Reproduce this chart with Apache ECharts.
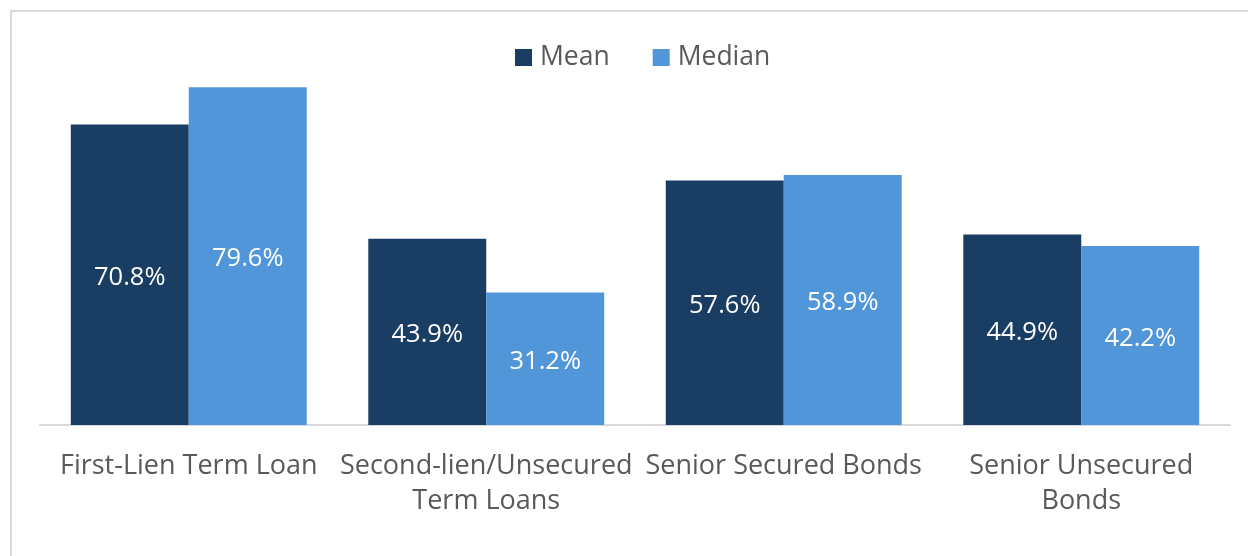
<!DOCTYPE html>
<html>
<head>
<meta charset="utf-8">
<script src="https://cdn.jsdelivr.net/npm/echarts@6/dist/echarts.min.js"></script>
<style>
html,body{margin:0;padding:0;background:#fff;}
#frame{position:absolute;left:10px;top:10px;width:1300px;height:700px;border:2px solid #d9d9d9;box-sizing:border-box;}
#chart{position:absolute;left:0;top:0;width:1248px;height:556px;}
body{width:1248px;height:556px;overflow:hidden;position:relative;}
</style>
</head>
<body>
<div id="frame"></div>
<div id="chart"></div>
<script>
const categories = ["First-Lien Term Loan", "Second-lien/Unsecured\nTerm Loans", "Senior Secured Bonds", "Senior Unsecured\nBonds"];
const meanValues = [70.8, 43.9, 57.6, 44.9];
const medianValues = [79.6, 31.2, 58.9, 42.2];
const seriesNames = ["Mean", "Median"];

const chart = echarts.init(document.getElementById('chart'), null, {renderer: 'canvas'});
const font = "'Open Sans', 'Noto Sans', sans-serif";
const labelCfg = {
  show: true, position: 'inside', offset: [0, 3], color: '#ffffff', fontSize: 25.5, fontFamily: font,
  formatter: p => p.value.toFixed(1) + '%'
};
chart.setOption({
  animation: false,
  backgroundColor: 'transparent',
  legend: {
    data: seriesNames, top: 39, left: 510, itemWidth: 17, itemHeight: 17, itemGap: 43,
    icon: 'rect',
    textStyle: {color: '#595959', fontSize: 26.5, fontFamily: font, padding: [0, 0, 0, 3]}
  },
  grid: {left: 40, right: 18, top: 43, bottom: 131},
  xAxis: {
    type: 'category', data: categories,
    axisLine: {lineStyle: {color: '#d9d9d9', width: 2}},
    axisTick: {show: false},
    axisLabel: {color: '#595959', fontSize: 27, fontFamily: font, margin: 24, lineHeight: 35, interval: 0}
  },
  yAxis: {type: 'value', min: 0, max: 90, show: false, splitLine: {show: false}},
  series: [
    {name: seriesNames[0], type: 'bar', data: meanValues, barGap: '0%', barCategoryGap: '20.7%',
     itemStyle: {color: '#193D63'}, label: labelCfg},
    {name: seriesNames[1], type: 'bar', data: medianValues, barGap: '0%', barCategoryGap: '20.7%',
     itemStyle: {color: '#5096D9'}, label: labelCfg}
  ]
});
</script>
</body>
</html>
